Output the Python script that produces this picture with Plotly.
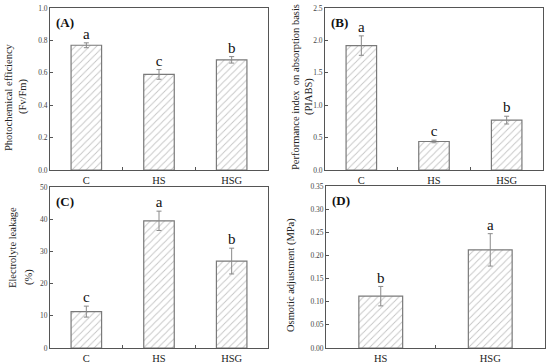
import plotly.graph_objects as go

# ---- data ----
cats3 = ["C", "HS", "HSG"]
cats2 = ["HS", "HSG"]

fvfm = [0.77, 0.59, 0.68]
fvfm_err = [0.015, 0.03, 0.02]
fvfm_sig = ["a", "c", "b"]

piabs = [1.92, 0.44, 0.77]
piabs_err = [0.15, 0.02, 0.06]
piabs_sig = ["a", "c", "b"]

el = [11.3, 39.5, 27.0]
el_err = [1.7, 3.0, 4.0]
el_sig = ["c", "a", "b"]

oa = [0.112, 0.212]
oa_err = [0.021, 0.035]
oa_sig = ["b", "a"]

panels = [
    dict(cats=cats3, vals=fvfm, err=fvfm_err, sig=fvfm_sig, label="(A)",
         titles=[("Photochemical efficiency", 9, 97), ("(Fv/Fm)", 23, 96)],
         yr=[0, 1.0], dt=0.2, fmt=".1f", dx=[50, 268], dy=[8, 170]),
    dict(cats=cats3, vals=piabs, err=piabs_err, sig=piabs_sig, label="(B)",
         titles=[("Performance index  on absorption basis", 295, 87), ("(PIABS)", 309, 97)],
         yr=[0, 2.5], dt=0.5, fmt=".1f", dx=[325, 543], dy=[8, 170]),
    dict(cats=cats3, vals=el, err=el_err, sig=el_sig, label="(C)",
         titles=[("Electrolyte leakage", 12, 248), ("(%)", 29, 277)],
         yr=[0, 50], dt=10, fmt="d", dx=[50, 268], dy=[187, 348]),
    dict(cats=cats2, vals=oa, err=oa_err, sig=oa_sig, label="(D)",
         titles=[("Osmotic adjustment (MPa)", 291, 275)],
         yr=[0, 0.35], dt=0.05, fmt=".2f", dx=[326, 545], dy=[186, 348]),
]

W, H = 550, 364
SERIF = "Liberation Serif"
GRAY = "#7a7a7a"
AX = "#555555"

fig = go.Figure()
layout = dict(width=W, height=H, margin=dict(l=0, r=0, t=0, b=0, autoexpand=False),
              paper_bgcolor="white", plot_bgcolor="white", showlegend=False,
              font=dict(family=SERIF, color="#222"))
annotations = []

for i, p in enumerate(panels):
    k = "" if i == 0 else str(i + 1)
    xa, ya = "x" + k, "y" + k
    n = len(p["cats"])
    xs = list(range(n))
    fig.add_trace(go.Bar(
        x=xs, y=p["vals"], width=0.42 if n == 3 else 0.4,
        marker=dict(color="white", line=dict(color=GRAY, width=1.2),
                    pattern=dict(shape="/", fgcolor="#8a8a8a", bgcolor="white",
                                 size=5, solidity=0.18)),
        error_y=dict(type="data", array=p["err"], visible=True, color="#8a8a8a",
                     thickness=1, width=2.5),
        xaxis=xa, yaxis=ya))
    fig.add_trace(go.Scatter(
        x=xs, y=[v + e for v, e in zip(p["vals"], p["err"])], mode="text",
        text=p["sig"], textposition="top center",
        textfont=dict(family=SERIF, size=15, color="#111"),
        xaxis=xa, yaxis=ya, cliponaxis=False))
    x0, x1 = p["dx"][0] / W, p["dx"][1] / W
    y0, y1 = 1 - p["dy"][1] / H, 1 - p["dy"][0] / H
    layout["xaxis" + k] = dict(
        domain=[x0, x1], anchor=ya, range=[-0.5, n - 0.5], automargin=False,
        tickvals=xs, ticktext=p["cats"], ticks="", showline=True, mirror=True,
        linecolor=AX, linewidth=1, showgrid=False, zeroline=False,
        tickfont=dict(family=SERIF, size=10.5, color="#222"),
        minor=dict(tickvals=[j + 0.5 for j in range(n - 1)], ticks="inside",
                   ticklen=3, tickcolor=AX, showgrid=False))
    layout["yaxis" + k] = dict(
        domain=[y0, y1], anchor=xa, range=p["yr"], dtick=p["dt"], tickformat=p["fmt"],
        automargin=False, ticklabeloverflow="allow",
        ticks="inside", ticklen=3, tickcolor=AX, showline=True, mirror=True,
        linecolor=AX, linewidth=1, showgrid=False, zeroline=False,
        tickfont=dict(family=SERIF, size=7.5, color="#444"))
    annotations.append(dict(
        text="<b>" + p["label"] + "</b>", xref=xa + " domain", yref=ya + " domain",
        x=0.02, y=0.97, xanchor="left", yanchor="top", showarrow=False,
        font=dict(family=SERIF, size=13, color="#111")))
    for txt, tx, ty in p["titles"]:
        annotations.append(dict(
            text=txt, xref="paper", yref="paper", x=tx / W, y=1 - ty / H,
            xanchor="center", yanchor="middle", textangle=-90, showarrow=False,
            font=dict(family=SERIF, size=10.5, color="#222")))

layout["annotations"] = annotations
fig.update_layout(**layout)
fig.write_html("out.html", config={"displayModeBar": False},
               post_script="document.body.style.margin='0';")
